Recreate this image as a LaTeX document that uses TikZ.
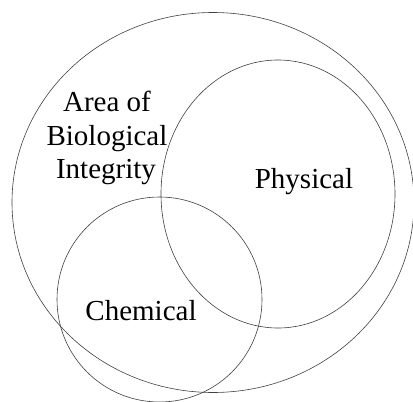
\documentclass[tikz,border=0pt]{standalone}
\usepackage{fontspec}
\setmainfont{Liberation Serif}
\begin{document}
\begin{tikzpicture}[x=1pt,y=-1pt,
  ring/.style={draw=black!75, line width=0.6pt},
  lbl/.style={font=\fontsize{29}{33}\selectfont, anchor=base, inner sep=0pt}]
\useasboundingbox (0,0) rectangle (413,402);
\draw[ring] (213,202.5) ellipse [x radius=201pt, y radius=190pt];
\draw[ring] (278,194) ellipse [x radius=117pt, y radius=134pt];
\draw[ring] (159.5,299.5) ellipse [x radius=102.5pt, y radius=102.5pt];
\node[lbl] (area) at (107,111.5) {Area of};
\node[lbl] (bio) at (107,145) {Biological};
\node[lbl] (integ) at (106,178) {Integrity};
\node[lbl] (phys) at (304,188) {Physical};
\node[lbl] (chem) at (141,320) {Chemical};
\end{tikzpicture}
\end{document}
